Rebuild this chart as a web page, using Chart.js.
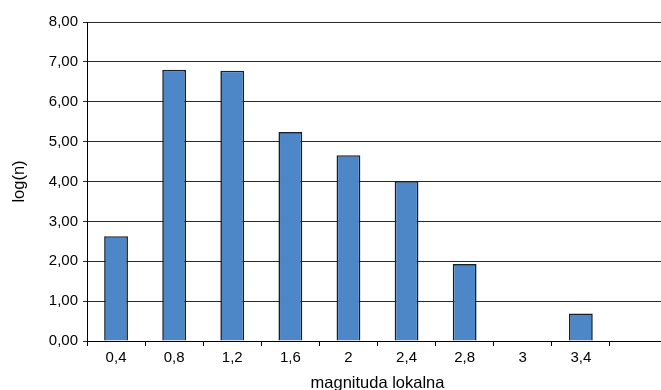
<!DOCTYPE html>
<html>
<head>
<meta charset="utf-8">
<script src="https://cdn.jsdelivr.net/npm/chart.js@4/dist/chart.umd.min.js"></script>
<style>
  html, body { margin: 0; padding: 0; background: #fff; overflow: hidden; }
  #wrap { width: 672px; height: 400px; position: relative; }
</style>
</head>
<body>
<div id="wrap"><canvas id="c" width="672" height="400"></canvas></div>
<script>
// Magnitude classes (local magnitude) and log of event counts
const categories = ['0,4', '0,8', '1,2', '1,6', '2', '2,4', '2,8', '3', '3,4', ''];
const logCounts = [2.63, 6.80, 6.78, 5.24, 4.66, 4.01, 1.93, null, 0.69, null];
const yTicks = { min: 0, max: 8, step: 1 };

const fontFamily = '"Liberation Sans", Arial, sans-serif';

new Chart(document.getElementById('c'), {
  type: 'bar',
  data: {
    labels: categories,
    datasets: [{
      data: logCounts,
      backgroundColor: '#4d87c7',
      borderColor: '#16212d',
      borderWidth: 1.6,
      barPercentage: 0.41,
      categoryPercentage: 1.0
    }]
  },
  options: {
    responsive: false,
    animation: false,
    layout: { padding: { top: 22, right: 4, left: 8, bottom: 3 } },
    plugins: { legend: { display: false }, tooltip: { enabled: false } },
    scales: {
      x: {
        grid: {
          offset: true,
          drawOnChartArea: false,
          drawTicks: true,
          tickLength: 5,
          color: '#000',
          lineWidth: 1
        },
        border: { display: true, color: '#000', width: 1 },
        ticks: {
          color: '#000',
          font: { family: fontFamily, size: 15 },
          padding: 3,
          maxRotation: 0,
          autoSkip: false
        },
        title: {
          display: true,
          text: 'magnituda lokalna',
          color: '#000',
          font: { family: fontFamily, size: 16.5 },
          padding: { top: 4, bottom: 4 }
        },
        afterFit(scale) { scale.height = 56; }
      },
      y: {
        min: yTicks.min,
        max: yTicks.max,
        grid: {
          color: '#2a2a2a',
          lineWidth: 1,
          drawTicks: true,
          tickLength: 4
        },
        border: { display: true, color: '#000', width: 1 },
        ticks: {
          stepSize: yTicks.step,
          color: '#000',
          font: { family: fontFamily, size: 15 },
          padding: 5,
          callback: v => v.toFixed(2).replace('.', ',')
        },
        title: {
          display: true,
          text: 'log(n)',
          color: '#000',
          font: { family: fontFamily, size: 16.5 },
          padding: { top: 2, bottom: 2 }
        },
        afterFit(scale) { scale.width = 79; }
      }
    }
  }
});
</script>
</body>
</html>
